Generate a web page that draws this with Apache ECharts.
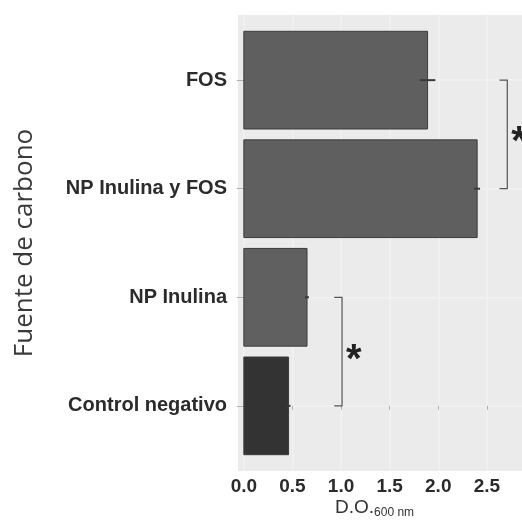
<!DOCTYPE html>
<html><head><meta charset="utf-8">
<script src="https://cdn.jsdelivr.net/npm/echarts@6/dist/echarts.min.js"></script>
<style>html,body{margin:0;padding:0;background:#fff}#c{width:522px;height:521px}</style>
</head><body><div id="c"></div>
<script>
const categories = ['Control negativo', 'NP Inulina', 'NP Inulina y FOS', 'FOS'];
const values = [0.46, 0.65, 2.40, 1.89];
const errors = [0.02, 0.02, 0.03, 0.08];
const barColors = ['#333333', '#606060', '#5f5f5f', '#5f5f5f'];
const xTickValues = [0, 0.5, 1, 1.5, 2, 2.5];
const yTickValues = [0, 1, 2, 3];
// significance brackets: [from category index, to category index, x position, label]
const brackets = [[0, 1, 1.01, '*'], [2, 3, 2.71, '*']];

const chart = echarts.init(document.getElementById('c'), null, {renderer: 'canvas'});
const labelFont = '"Liberation Sans", Arial, sans-serif';

chart.setOption({
  animation: false,
  backgroundColor: '#ffffff',
  grid: {left: 238, top: 15, width: 314, height: 456, show: true, backgroundColor: '#ebebeb', borderWidth: 0, containLabel: false, outerBoundsMode: 'none'},
  xAxis: {
    type: 'value', min: -0.06, max: 3.17,
    axisLine: {show: false},
    axisTick: {show: true, length: 4, lineStyle: {color: '#b0b0b0'}, customValues: xTickValues},
    axisLabel: {customValues: xTickValues, formatter: v => v.toFixed(1), fontFamily: labelFont, fontWeight: 'bold', fontSize: 19, color: '#2b2b2b', margin: 6},
    splitLine: {show: true, lineStyle: {color: '#f2f2f2', width: 1.5}}
  },
  yAxis: {
    type: 'value', min: -0.6, max: 3.6,
    name: 'Fuente de carbono', nameLocation: 'middle', nameGap: 200, nameRotate: 90,
    nameTextStyle: {fontFamily: '"Open Sans", sans-serif', fontSize: 26, color: '#3a3a3a'},
    axisLine: {show: false},
    axisTick: {show: true, length: 7, lineStyle: {color: '#b0b0b0'}, customValues: yTickValues},
    axisLabel: {customValues: yTickValues, formatter: v => categories[Math.round(v)], fontFamily: labelFont, fontWeight: 'bold', fontSize: 20, color: '#2b2b2b', margin: 11},
    splitLine: {show: true, lineStyle: {color: '#f2f2f2', width: 1.5}}
  },
  graphic: [
    {type: 'text', left: 335, top: 498, style: {
      text: '{a|D.O.}{b|600 nm}',
      rich: {
        a: {fontFamily: labelFont, fontSize: 19, fill: '#333333'},
        b: {fontFamily: labelFont, fontSize: 12, fill: '#333333', verticalAlign: 'bottom', padding: [10, 0, 0, 0]}
      }
    }}
  ],
  series: [
    {
      type: 'custom', name: 'bars', z: 2,
      data: values.map((v, i) => [v, i]),
      encode: {x: 0, y: 1},
      renderItem: (params, api) => {
        const v = api.value(0), i = api.value(1);
        const p0 = api.coord([0, i + 0.45]);
        const p1 = api.coord([v, i - 0.45]);
        return {type: 'rect', shape: {x: p0[0], y: p0[1], width: p1[0] - p0[0], height: p1[1] - p0[1]},
          style: {fill: barColors[i], stroke: '#3c3c3c', lineWidth: 1}};
      }
    },
    {
      type: 'custom', name: 'errors', z: 3,
      data: values.map((v, i) => [v, i, errors[i]]),
      encode: {x: 0, y: 1},
      renderItem: (params, api) => {
        const v = api.value(0), i = api.value(1), e = api.value(2);
        const a = api.coord([v - e, i]);
        const b = api.coord([v + e, i]);
        return {type: 'line', shape: {x1: a[0], y1: a[1], x2: b[0], y2: b[1]}, style: {stroke: '#3a3a3a', lineWidth: 2}};
      }
    },
    {
      type: 'custom', name: 'brackets', z: 4, clip: false,
      data: brackets,
      encode: {x: 2, y: 0},
      renderItem: (params, api) => {
        const i0 = api.value(0), i1 = api.value(1), x = api.value(2);
        const br = brackets[params.dataIndex];
        const top = api.coord([x, i1]);
        const bot = api.coord([x, i0]);
        const tipTop = api.coord([x - 0.08, i1]);
        const tipBot = api.coord([x - 0.08, i0]);
        const mid = api.coord([x + 0.12, (i0 + i1) / 2]);
        return {type: 'group', children: [
          {type: 'polyline', shape: {points: [tipTop, top, bot, tipBot]}, style: {stroke: '#555555', lineWidth: 1.2, fill: 'none'}},
          {type: 'text', style: {x: mid[0], y: mid[1] + 9, text: br[3], fontFamily: labelFont, fontWeight: 'bold', fontSize: 40, fill: '#222222', align: 'center', verticalAlign: 'middle'}}
        ]};
      }
    }
  ]
});
</script>
</body></html>
